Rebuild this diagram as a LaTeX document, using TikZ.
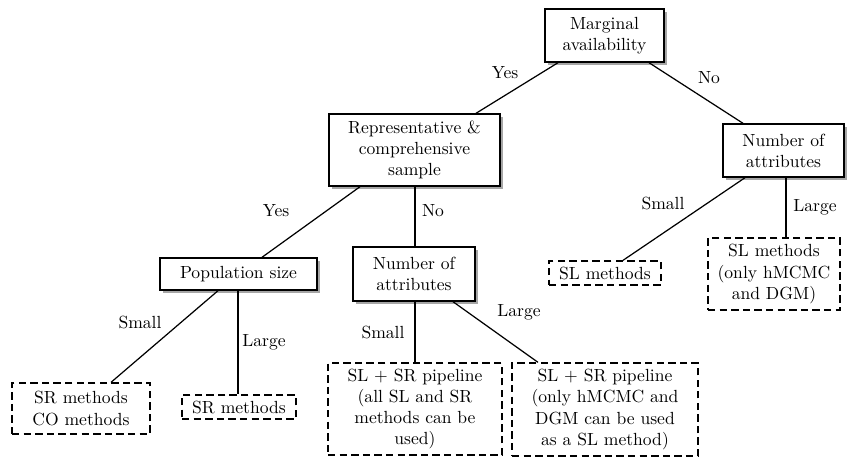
\documentclass[tikz,border=0pt]{standalone}
\usetikzlibrary{shadows}
\newcommand\pxu{0.02cm}
\begin{document}
\begin{tikzpicture}[x=0.02cm,y=-0.02cm,
  solidbox/.style={draw=black,line width=0.8pt,fill=white,align=center,inner sep=0pt,
    drop shadow={shadow xshift=1.6pt,shadow yshift=-1.6pt,fill=black,opacity=0.35}},
  dashbox/.style={draw=black,line width=0.75pt,dash pattern=on 4.2pt off 2.4pt,align=center,inner sep=0pt},
  conn/.style={line width=0.7pt},
  lbl/.style={inner sep=0pt}]
\useasboundingbox (0,0) rectangle (849,457);
% decision boxes
\node[solidbox,minimum width=119*\pxu,minimum height=53*\pxu] (marg) at (604.5,35.5) {Marginal\\availability};
\node[solidbox,minimum width=171*\pxu,minimum height=72*\pxu] (rep) at (414.5,150) {Representative \&\\comprehensive\\sample};
\node[solidbox,minimum width=121*\pxu,minimum height=53*\pxu] (numr) at (783.5,150.5) {Number of\\attributes};
\node[solidbox,minimum width=157*\pxu,minimum height=32*\pxu] (pop) at (238.5,274) {Population size};
\node[solidbox,minimum width=122*\pxu,minimum height=54*\pxu] (numm) at (414,274) {Number of\\attributes};
% outcome boxes
\node[dashbox,minimum width=112*\pxu,minimum height=24*\pxu] (slm) at (605,273) {SL methods};
\node[dashbox,minimum width=132*\pxu,minimum height=72*\pxu] (sll) at (774,274) {SL methods\\(only hMCMC\\and DGM)};
\node[dashbox,minimum width=138*\pxu,minimum height=51*\pxu] (src) at (81,408.5) {SR methods\\CO methods};
\node[dashbox,minimum width=114*\pxu,minimum height=24*\pxu] (srm) at (239,407) {SR methods};
\node[dashbox,minimum width=174*\pxu,minimum height=92*\pxu] (pipa) at (415,409) {SL + SR pipeline\\(all SL and SR\\methods can be\\used)};
\node[dashbox,minimum width=186*\pxu,minimum height=93*\pxu] (pipb) at (605,409.5) {SL + SR pipeline\\(only hMCMC and\\DGM can be used\\as a SL method)};
% connectors
\draw[conn] (558,0 |- marg.south) -- (476,0 |- rep.north);
\draw[conn] (649,0 |- marg.south) -- (743,0 |- numr.north);
\draw[conn] (360,0 |- rep.south) -- (262,0 |- pop.north);
\draw[conn] (415,0 |- rep.south) -- (415,0 |- numm.north);
\draw[conn] (218,0 |- pop.south) -- (111,0 |- src.north);
\draw[conn] (238,0 |- pop.south) -- (238,0 |- srm.north);
\draw[conn] (415,0 |- numm.south) -- (415,0 |- pipa.north);
\draw[conn] (453,0 |- numm.south) -- (538,0 |- pipb.north);
\draw[conn] (745,0 |- numr.south) -- (623,0 |- slm.north);
\draw[conn] (786,0 |- numr.south) -- (786,0 |- sll.north);
% labels
\node[lbl] (l1) at (505,73) {Yes};
\node[lbl] (l2) at (709,78) {No};
\node[lbl] (l3) at (276,211) {Yes};
\node[lbl] (l4) at (433,211) {No};
\node[lbl] (l5) at (140,322) {Small};
\node[lbl] (l6) at (264,342) {Large};
\node[lbl] (l7) at (383,332) {Small};
\node[lbl] (l8) at (519,312) {Large};
\node[lbl] (l9) at (663,203) {Small};
\node[lbl] (l10) at (815,207) {Large};
\end{tikzpicture}
\end{document}
